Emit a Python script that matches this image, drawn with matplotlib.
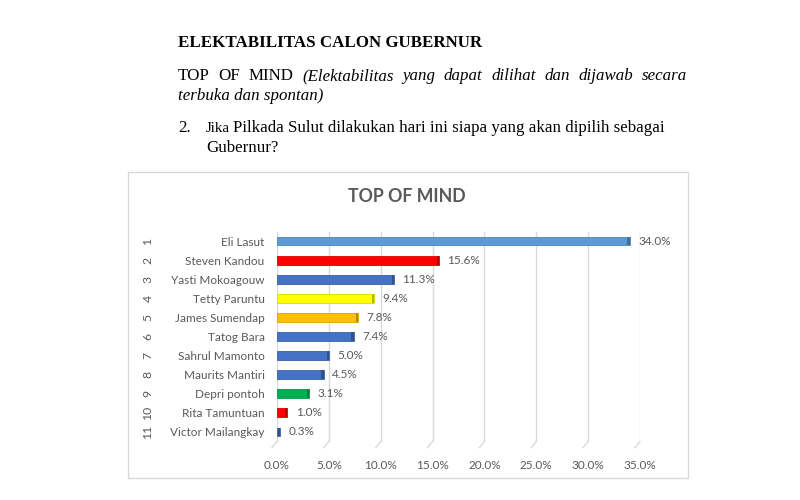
import matplotlib
matplotlib.use("Agg")
import matplotlib.pyplot as plt
from matplotlib.transforms import blended_transform_factory
from matplotlib.lines import Line2D
from matplotlib.patches import Rectangle
import matplotlib.colors as mcolors

# ---- data ----
ranks = ["1", "2", "3", "4", "5", "6", "7", "8", "9", "10", "11"]
names = ["Eli Lasut", "Steven Kandou", "Yasti Mokoagouw", "Tetty Paruntu",
         "James Sumendap", "Tatog Bara", "Sahrul Mamonto", "Maurits Mantiri",
         "Depri pontoh", "Rita Tamuntuan", "Victor Mailangkay"]
values = [34.0, 15.6, 11.3, 9.4, 7.8, 7.4, 5.0, 4.5, 3.1, 1.0, 0.3]
colors = ["#5B9BD5", "#FF0000", "#4472C4", "#FFFF00", "#FFC000", "#4472C4",
          "#4472C4", "#4472C4", "#00B050", "#FF0000", "#4472C4"]
xticks = [0, 5, 10, 15, 20, 25, 30, 35]
chart_title = "TOP OF MIND"

W, H = 800, 500
fig = plt.figure(figsize=(8, 5), dpi=100)
fig.patch.set_facecolor("white")

def fx(px):
    return px / W

def fy(py):
    return 1 - py / H

serif = "Liberation Serif"
sans = "Lato"
gray = "#595959"

# ---- document text ----
fig.text(fx(178), fy(47), "ELEKTABILITAS CALON GUBERNUR", family=serif,
         weight="bold", fontsize=12.2, color="black", va="baseline", ha="left")

renderer = fig.canvas.get_renderer()

def justify(words, x0, x1, ybase, size):
    arts = []
    for w, style in words:
        t = fig.text(0, fy(ybase), w, family=serif, style=style, fontsize=size,
                     va="baseline", ha="left", color="black")
        arts.append(t)
    widths = [a.get_window_extent(renderer).width for a in arts]
    gap = ((x1 - x0) - sum(widths)) / (len(arts) - 1)
    x = x0
    for a, wd in zip(arts, widths):
        a.set_x(fx(x))
        x += wd + gap

justify([("TOP", "normal"), ("OF", "normal"), ("MIND", "normal"),
         ("(Elektabilitas", "italic"), ("yang", "italic"), ("dapat", "italic"),
         ("dilihat", "italic"), ("dan", "italic"), ("dijawab", "italic"),
         ("secara", "italic")], 178, 687, 80, 12.2)
fig.text(fx(178), fy(100), "terbuka dan spontan)", family=serif, style="italic",
         fontsize=12.2, va="baseline", ha="left")
fig.text(fx(178), fy(132), "2.", family=serif, fontsize=12.2, va="baseline", ha="left")
fig.text(fx(206), fy(132), "Jika", family=serif, fontsize=10.8, va="baseline", ha="left")
fig.text(fx(233), fy(132), "Pilkada Sulut dilakukan hari ini siapa yang akan dipilih sebagai",
         family=serif, fontsize=12.2, va="baseline", ha="left")
fig.text(fx(206), fy(152), "Gubernur?", family=serif, fontsize=12.2, va="baseline", ha="left")

# ---- chart frame ----
frame = Rectangle((fx(128), fy(478)), fx(688) - fx(128), fy(172) - fy(478),
                  transform=fig.transFigure, facecolor="white",
                  edgecolor="#D9D9D9", linewidth=1.0, zorder=-5)
fig.patches.append(frame)
fig.text(fx(407), fy(196), chart_title, family=sans, weight="bold", fontsize=12.8,
         color=gray, ha="center", va="center")

# ---- axes ----
left, right, top, bottom = 277, 640, 231.5, 441.5
ax = fig.add_axes([fx(left), fy(bottom), fx(right) - fx(left), (bottom - top) / H])
ax.set_facecolor("none")
n = len(names)
ypos = list(range(n))
ax.set_xlim(xticks[0], xticks[-1])
ax.set_ylim(n - 0.5, -0.5)

bh = 0.46
edges = []
caps = []
for c in colors:
    r, g, b = mcolors.to_rgb(c)
    caps.append((r * 0.72, g * 0.72, b * 0.72))
    edges.append((r * 0.85, g * 0.85, b * 0.85))
ax.barh(ypos, values, height=bh, color=colors, edgecolor=edges, linewidth=0.6, zorder=3)
cap = 0.22
ax.barh(ypos, [min(cap, v) for v in values],
        left=[max(0, v - cap) for v in values], height=bh, color=caps,
        linewidth=0, zorder=4)

for y, v in zip(ypos, values):
    ax.annotate(f"{v:.1f}%", (v, y), xytext=(6, 0), textcoords="offset points",
                va="center", ha="left", fontsize=8.5, family=sans, color=gray)

ax.set_xticks(xticks)
ax.set_xticklabels([f"{t:.1f}%" for t in xticks], family=sans, fontsize=8.5, color=gray)
ax.set_yticks(ypos)
ax.set_yticklabels(names, family=sans, fontsize=8.5, color=gray)
ax.tick_params(axis="x", length=0, pad=13)
ax.tick_params(axis="y", length=0, pad=9)
ax.grid(axis="x", color="#D9D9D9", linewidth=1, zorder=0)
ax.set_axisbelow(True)
for s in ax.spines.values():
    s.set_visible(False)

trans = blended_transform_factory(fig.transFigure, ax.transData)
for y, r in zip(ypos, ranks):
    ax.text(fx(148), y, r, transform=trans, rotation=90, ha="center", va="center",
            fontsize=8.8, family=sans, color=gray)

# slanted floor ticks (3D effect)
fig.canvas.draw()
for t in xticks:
    px, py = ax.transData.transform((t, n - 0.5))
    fig.lines.append(Line2D([px, px - 5], [py, py - 6], transform=None,
                            color="#D9D9D9", linewidth=1))

fig.savefig("out.png", dpi=100)
